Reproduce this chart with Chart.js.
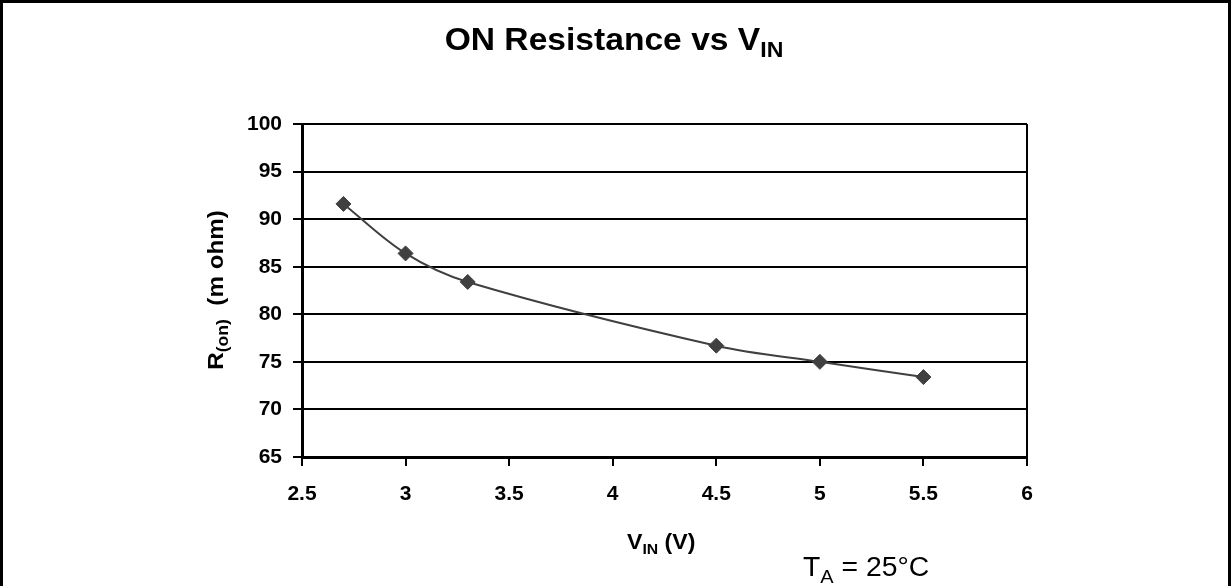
<!DOCTYPE html>
<html>
<head>
<meta charset="UTF-8">
<script src="https://cdn.jsdelivr.net/npm/chart.js@4.4.0/dist/chart.umd.min.js"></script>
<style>
  body { margin: 0; background: #fff; }
  #wrap { width: 1231px; height: 586px; }
</style>
</head>
<body>
<div id="wrap"><canvas id="ron" width="1231" height="586"></canvas></div>
<script>
// values
var vin = [2.7, 3.0, 3.3, 4.5, 5.0, 5.5];
var ron = [91.6, 86.4, 83.4, 76.7, 75.0, 73.4];
var xTicks = [2.5, 3, 3.5, 4, 4.5, 5, 5.5, 6];
var yTicks = [65, 70, 75, 80, 85, 90, 95, 100];

var FONT = 'Arial, "Liberation Sans", sans-serif';

// draw a run of text pieces (for subscripts), stretched a bit like the original
function richText(ctx, parts, x, y, align, sx) {
  ctx.save();
  var w = 0;
  parts.forEach(function (p) { ctx.font = p.font; w += ctx.measureText(p.t).width; });
  ctx.translate(x, y);
  ctx.scale(sx, 1);
  var cx = align === 'center' ? -w / 2 : 0;
  ctx.fillStyle = '#000';
  ctx.textBaseline = 'alphabetic';
  ctx.textAlign = 'left';
  parts.forEach(function (p) {
    ctx.font = p.font;
    ctx.fillText(p.t, cx, p.dy || 0);
    cx += ctx.measureText(p.t).width;
  });
  ctx.restore();
}

var decor = {
  id: 'decor',
  afterDraw: function (chart) {
    var ctx = chart.ctx;
    // outer frame
    ctx.save();
    ctx.strokeStyle = '#000';
    ctx.lineWidth = 3;
    ctx.beginPath();
    ctx.moveTo(1.5, 600); ctx.lineTo(1.5, 1.5); ctx.lineTo(1229.5, 1.5); ctx.lineTo(1229.5, 600);
    ctx.stroke();
    ctx.restore();

    richText(ctx, [
      { t: 'ON Resistance vs V', font: 'bold 32px ' + FONT },
      { t: 'IN', font: 'bold 22px ' + FONT, dy: 7 }
    ], 614, 50, 'center', 1.05);

    richText(ctx, [
      { t: 'V', font: 'bold 22px ' + FONT },
      { t: 'IN', font: 'bold 15px ' + FONT, dy: 5 },
      { t: ' (V)', font: 'bold 22px ' + FONT }
    ], 627, 549, 'left', 1.05);

    richText(ctx, [
      { t: 'T', font: '27px ' + FONT },
      { t: 'A', font: '19px ' + FONT, dy: 7 },
      { t: ' = 25°C', font: '27px ' + FONT }
    ], 803, 576, 'left', 1.05);

    ctx.save();
    ctx.translate(223, 290);
    ctx.rotate(-Math.PI / 2);
    richText(ctx, [
      { t: 'R', font: 'bold 22px ' + FONT },
      { t: '(on)', font: 'bold 16px ' + FONT, dy: 5 },
      { t: '  (m ohm)', font: 'bold 22px ' + FONT }
    ], 0, 0, 'center', 1.1);
    ctx.restore();
  }
};

new Chart(document.getElementById('ron'), {
  type: 'scatter',
  data: {
    datasets: [{
      data: vin.map(function (v, i) { return { x: v, y: ron[i] }; }),
      showLine: true,
      tension: 0.35,
      borderColor: '#404040',
      borderWidth: 2,
      pointStyle: 'rectRot',
      pointRadius: 7.5,
      pointBackgroundColor: '#404040',
      pointBorderColor: '#404040',
      pointBorderWidth: 1
    }]
  },
  options: {
    responsive: false,
    animation: false,
    layout: { padding: { top: 124, right: 204, left: 0, bottom: 0 } },
    plugins: { legend: { display: false }, tooltip: { enabled: false } },
    scales: {
      x: {
        type: 'linear',
        min: 2.5, max: 6,
        afterFit: function (s) { s.height = 129; },
        afterBuildTicks: function (s) { s.ticks = xTicks.map(function (v) { return { value: v }; }); },
        ticks: {
          color: '#000', padding: 16, maxRotation: 0,
          font: { family: FONT, size: 21, weight: 'bold' },
          callback: function (v) { return String(v); }
        },
        grid: {
          color: function (c) { return c.tick && c.tick.value === 6 ? '#000' : 'rgba(0,0,0,0)'; },
          tickColor: '#000',
          lineWidth: 2,
          tickLength: 9
        },
        border: { color: '#000', width: 3 }
      },
      y: {
        min: 65, max: 100,
        afterFit: function (s) { s.width = 302; },
        afterBuildTicks: function (s) { s.ticks = yTicks.map(function (v) { return { value: v }; }); },
        ticks: {
          color: '#000', padding: 11,
          font: { family: FONT, size: 21, weight: 'bold' },
          callback: function (v) { return String(v); }
        },
        grid: { color: '#000', tickColor: '#000', lineWidth: 2, tickLength: 9 },
        border: { color: '#000', width: 3 }
      }
    }
  },
  plugins: [decor]
});
</script>
</body>
</html>
